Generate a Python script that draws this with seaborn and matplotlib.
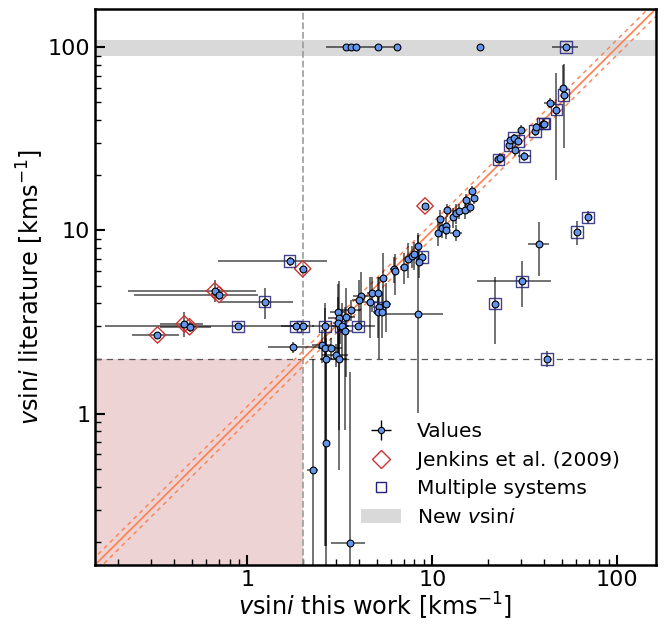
import numpy as np
import pandas as pd
import seaborn as sns
import matplotlib.pyplot as plt
from matplotlib.lines import Line2D
from matplotlib.patches import Patch
from matplotlib.ticker import FuncFormatter

# vsini from this work and from the literature, with (low, high) errors
vsini_this = [3.42, 3.63, 3.85, 5.07, 6.46, 18.1, 53.0,
              1.69, 1.99, 0.666, 0.702, 1.24, 0.455, 0.486, 0.89, 1.82, 2.0, 2.63, 3.18, 3.97, 0.326, 1.77,
              2.53, 2.62, 2.83, 2.66, 3.02, 3.14, 3.09, 3.14, 3.09, 3.26, 3.39, 3.42, 3.63, 4.12, 4.0, 4.62,
              4.72, 5.07, 5.17, 5.64, 5.09, 5.35, 5.39, 6.18, 6.31, 7.0, 7.39, 7.77, 8.33, 7.99, 8.79, 8.43,
              8.37, 2.26, 2.65, 3.57,
              9.13, 10.7, 10.96, 11.3, 11.9, 11.8, 12.0, 12.9, 13.4, 13.4, 14.0, 15.1, 15.9, 15.3, 16.7, 16.3,
              22.8, 23.3, 26.1, 26.4, 27.5, 29.1, 28.1, 30.3, 31.5, 36.0, 36.5, 39.6, 40.3, 43.4, 46.8, 50.8,
              51.3, 69.5, 60.5, 37.9, 30.5, 21.8, 41.7]
vsini_lit = [100, 100, 100, 100, 100, 100, 100,
             6.80, 6.18, 4.68, 4.47, 4.09, 3.09, 2.98, 3.0, 3.0, 3.0, 3.0, 3.0, 3.0, 2.69, 2.30,
             2.38, 2.29, 2.29, 1.99, 2.09, 1.99, 3.58, 3.32, 3.11, 3.0, 2.82, 3.38, 3.69, 4.40, 4.18, 4.08,
             4.58, 4.58, 3.80, 3.99, 3.60, 3.60, 5.51, 6.18, 5.97, 6.33, 7.0, 7.21, 8.18, 7.39, 7.15, 6.71,
             3.51, 0.494, 0.69, 0.197,
             13.6, 9.71, 11.5, 10.3, 10.6, 10.0, 12.9, 11.8, 9.71, 12.4, 12.7, 13.0, 13.4, 14.6, 15.0, 16.4,
             24.4, 24.8, 29.1, 31.0, 32.1, 30.8, 27.4, 35.5, 25.4, 34.9, 36.7, 38.3, 38.3, 49.6, 45.6, 60.2,
             54.7, 11.8, 9.8, 8.42, 5.27, 3.99, 1.99]
x_err_lo = [0.76, 0.2, 0.2, 0.2, 0.2, 0.3, 8.5,
            1.0, 0.1, 0.44, 0.46, 0.53, 0.12, 0.15, 0.72, 0.3, 0.3, 0.4, 0.3, 0.8, 0.09, 0.48,
            0.3, 0.2, 0.4, 0.2, 0.5, 0.3, 0.3, 0.4, 0.2, 0.3, 0.3, 0.4, 0.5, 0.4, 0.3, 0.4,
            0.3, 0.3, 0.4, 0.3, 0.3, 0.3, 0.3, 0.3, 0.3, 0.3, 0.3, 0.3, 0.3, 0.3, 0.3, 0.3,
            3.1, 0.15, 0.1, 0.73,
            0.3, 0.3, 0.3, 0.3, 0.3, 0.3, 0.3, 0.3, 1.0, 0.3, 0.3, 0.3, 0.3, 0.3, 0.3, 0.3,
            0.5, 0.5, 0.5, 0.5, 0.5, 0.5, 0.5, 0.5, 2.5, 0.8, 0.8, 0.8, 0.8, 3.0, 1.0, 1.0,
            1.0, 2.0, 1.5, 5.0, 13.1, 0.8, 1.0]
x_err_hi = [0.2, 3.0, 0.2, 0.2, 0.3, 0.3, 8.5,
            1.0, 0.1, 0.44, 0.44, 0.52, 0.12, 0.15, 0.9, 0.3, 0.3, 0.5, 0.3, 0.9, 0.1, 0.81,
            0.3, 0.2, 0.4, 0.2, 0.5, 0.3, 0.3, 0.4, 0.2, 0.3, 0.3, 0.4, 0.5, 0.4, 0.3, 0.4,
            0.3, 0.3, 0.4, 0.3, 0.3, 0.3, 0.3, 0.3, 0.3, 0.3, 0.3, 0.3, 0.3, 0.3, 0.3, 0.3,
            3.0, 0.15, 0.1, 0.74,
            0.3, 0.3, 0.3, 0.3, 0.3, 0.3, 0.3, 0.3, 1.0, 0.3, 0.3, 0.3, 0.3, 0.3, 0.3, 0.3,
            0.5, 0.5, 0.5, 0.5, 0.5, 0.5, 0.5, 0.5, 2.5, 0.8, 0.8, 0.8, 0.8, 3.0, 1.0, 1.0,
            1.0, 2.0, 1.5, 5.1, 13.3, 0.8, 1.0]
y_err_lo = [0, 0, 0, 0, 0, 0, 0,
            0.4, 0.2, 0.6, 0.3, 0.8, 0.48, 0.2, 0.1, 0.1, 0.1, 1.0, 0.6, 0.1, 0.1, 0.15,
            0.5, 2.1, 0.3, 1.8, 0.3, 1.5, 1.5, 2.5, 1.2, 1.0, 2.0, 1.8, 0.5, 1.5, 1.2, 1.5,
            1.0, 1.0, 1.8, 1.2, 1.0, 1.0, 2.0, 1.0, 1.5, 1.2, 1.5, 1.0, 1.5, 1.3, 0.5, 1.2,
            2.5, 0.46, 0.65, 0.195,
            0.4, 1.5, 1.5, 1.2, 1.2, 1.0, 1.0, 1.5, 1.0, 1.5, 1.2, 1.5, 1.0, 1.2, 1.0, 1.0,
            1.0, 1.5, 2.0, 1.5, 1.5, 1.5, 2.0, 2.0, 1.5, 2.0, 2.0, 2.0, 2.0, 3.0, 26.8, 4.0,
            26.7, 1.0, 1.5, 2.8, 1.46, 1.59, 0.2]
y_err_hi = [0, 0, 0, 0, 0, 0, 0,
            0.4, 0.2, 0.7, 0.3, 0.77, 0.49, 0.2, 0.1, 0.1, 0.1, 1.0, 0.6, 0.1, 0.1, 0.15,
            0.5, 1.5, 0.3, 1.0, 0.3, 1.5, 1.5, 2.0, 1.2, 1.0, 1.0, 1.5, 0.5, 1.5, 1.2, 1.5,
            1.0, 1.0, 1.8, 1.2, 1.0, 1.0, 2.0, 1.0, 1.5, 1.2, 1.5, 1.0, 1.5, 1.3, 0.5, 1.2,
            5.9, 1.5, 1.9, 1.5,
            0.4, 1.5, 1.5, 1.2, 1.2, 1.0, 1.0, 1.5, 1.0, 1.5, 1.2, 1.5, 1.0, 1.2, 1.0, 1.0,
            1.0, 1.5, 2.0, 1.5, 1.5, 1.5, 2.0, 2.0, 1.5, 2.0, 2.0, 2.0, 2.0, 3.0, 26.4, 20.2,
            26.3, 1.0, 1.5, 2.7, 1.5, 1.57, 0.2]
# v = plain value, j = Jenkins et al. (2009), m = multiple system
source = ['v', 'v', 'v', 'v', 'v', 'v', 'm',
          'm', 'j', 'j', 'j', 'm', 'j', 'j', 'm', 'm', 'm', 'm', 'm', 'm', 'j', 'v',
          'v', 'v', 'v', 'v', 'v', 'v', 'v', 'v', 'v', 'v', 'v', 'v', 'v', 'v', 'v', 'v',
          'v', 'v', 'm', 'v', 'v', 'v', 'v', 'v', 'v', 'v', 'v', 'v', 'v', 'v', 'm', 'v',
          'v', 'v', 'v', 'v',
          'j', 'v', 'v', 'v', 'v', 'v', 'v', 'v', 'v', 'v', 'v', 'v', 'v', 'v', 'v', 'v',
          'm', 'v', 'm', 'v', 'm', 'm', 'v', 'v', 'm', 'm', 'v', 'm', 'm', 'v', 'm', 'v',
          'm', 'm', 'm', 'v', 'm', 'm', 'm']

df = pd.DataFrame({'x': vsini_this, 'y': vsini_lit, 'src': source})

sns.set_style('ticks')
plt.rcParams['font.family'] = ['DejaVu Sans']
plt.rcParams['mathtext.fontset'] = 'dejavusans'
for key in ['text.color', 'axes.labelcolor', 'xtick.color', 'ytick.color', 'axes.edgecolor']:
    plt.rcParams[key] = 'black'

fig = plt.figure(figsize=(6.7, 6.24), dpi=100)
ax = fig.add_axes([0.142, 0.095, 0.837, 0.891])

lim = (0.15, 162)
ax.set_xscale('log')
ax.set_yscale('log')

# regions
ax.fill_between([0.1, 2], 0.1, 2, color='#edd3d3', lw=0, zorder=0)
ax.axhspan(90, 110, color='#d9d9d9', lw=0, zorder=0)
ax.axvline(2, color='0.6', ls='--', lw=1.3, zorder=1, alpha=0.9)
ax.axhline(2, color='0.35', ls=(0, (5, 4)), lw=0.9, zorder=1)

# one to one line and +-10 %
xx = np.array([0.1, 300])
ax.plot(xx, xx, color='coral', lw=1.2, zorder=2)
ax.plot(xx, xx * 1.1, color='coral', lw=1, ls=(0, (3, 3)), zorder=2)
ax.plot(xx, xx / 1.1, color='coral', lw=1, ls=(0, (3, 3)), zorder=2)

ax.errorbar(df['x'], df['y'], xerr=[x_err_lo, x_err_hi], yerr=[y_err_lo, y_err_hi],
            fmt='none', ecolor=(0, 0, 0, 0.7), elinewidth=1.1, capsize=0, zorder=3)

sns.scatterplot(data=df, x='x', y='y', color='cornflowerblue', edgecolor='k',
                linewidth=0.8, s=24, zorder=5, ax=ax, legend=False)
jk = df[df['src'] == 'j']
sns.scatterplot(data=jk, x='x', y='y', marker='D', facecolor='none', edgecolor='#cc3333',
                linewidth=1, s=70, zorder=4, ax=ax, legend=False)
ms = df[df['src'] == 'm']
sns.scatterplot(data=ms, x='x', y='y', marker='s', facecolor='none', edgecolor='#22227a',
                linewidth=1, s=68, zorder=4, ax=ax, legend=False, alpha=0.85)

ax.set_xlim(lim)
ax.set_ylim(lim)
fmt = FuncFormatter(lambda v, p: '%g' % v)
ax.xaxis.set_major_formatter(fmt)
ax.yaxis.set_major_formatter(fmt)
ax.tick_params(which='both', direction='in', top=False, right=False, labelsize=16)
ax.tick_params(which='major', length=7, width=1.5)
ax.tick_params(which='minor', length=4, width=1)
for sp in ax.spines.values():
    sp.set_linewidth(1.8)

ax.set_xlabel(r'$v$sin$i$ this work [kms$^{-1}$]', fontsize=17.3, labelpad=1)
ax.set_ylabel(r'$v$sin$i$ literature [kms$^{-1}$]', fontsize=17.3, labelpad=1)

h_val = (Line2D([], [], marker='+', ms=14, mew=1, color='k', ls='none'),
         Line2D([], [], marker='o', ms=4.5, mfc='cornflowerblue', mec='k', mew=0.8, ls='none'))
h_jk = Line2D([], [], marker='D', ms=9, mfc='none', mec='#cc3333', mew=1, ls='none')
h_ms = Line2D([], [], marker='s', ms=7.5, mfc='none', mec='#22227a', mew=1, ls='none')
h_new = Patch(color='#d9d9d9', lw=0)
ax.legend([h_val, h_jk, h_ms, h_new],
          ['Values', 'Jenkins et al. (2009)', 'Multiple systems', r'New $v$sin$i$'],
          loc='lower right', bbox_to_anchor=(0.968, 0.035), frameon=False, fontsize=14.5,
          handlelength=2.0, handletextpad=0.8, labelspacing=0.48)

fig.savefig('out.png', dpi=100)
